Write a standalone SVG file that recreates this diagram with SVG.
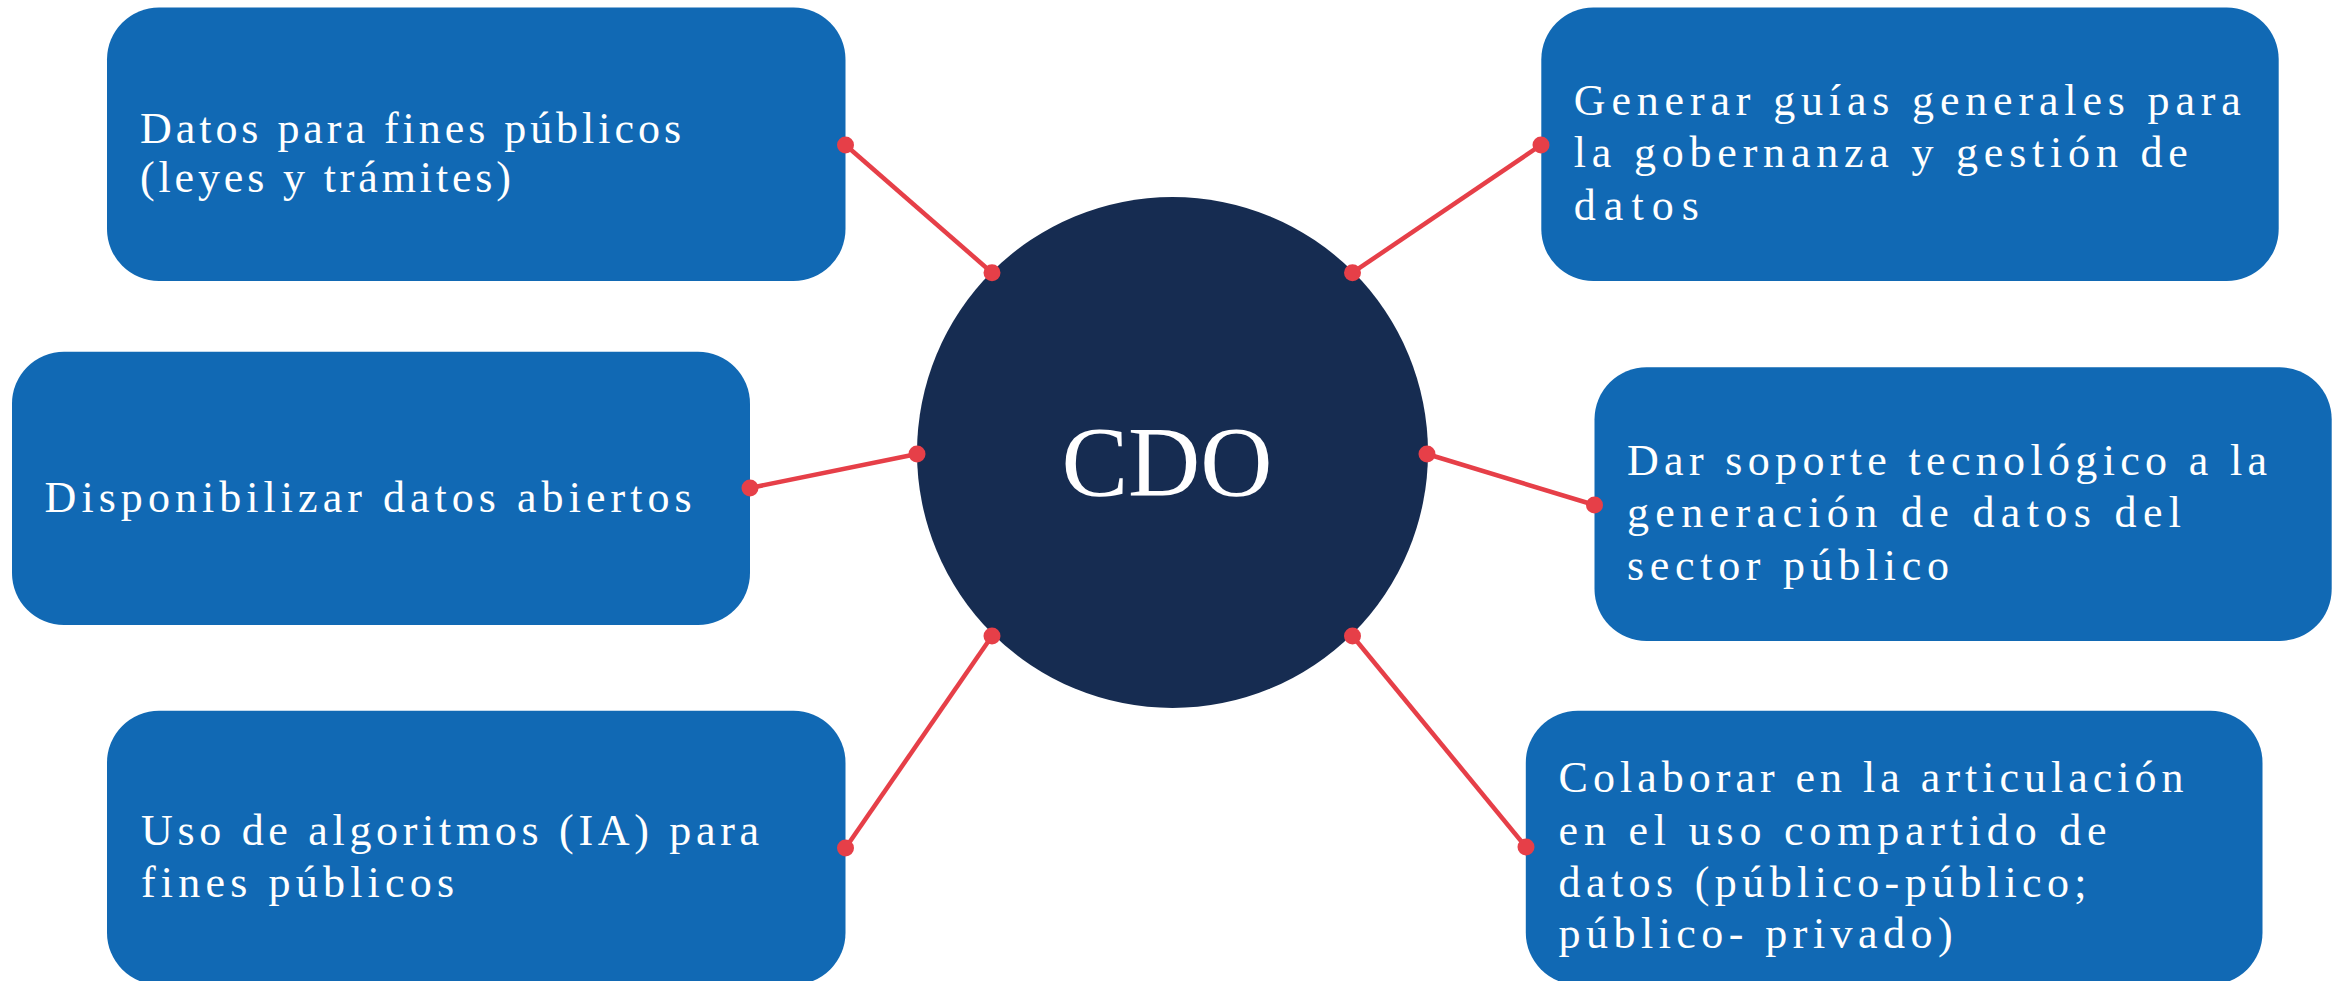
<svg xmlns="http://www.w3.org/2000/svg" width="2338" height="981" viewBox="0 0 2338 981">
<style>
.box{fill:#1169B4;}
.t{font-family:"Liberation Serif","Times New Roman",serif;font-size:44px;fill:#ffffff;}
.hub{fill:#162C51;}
.hubt{font-family:"Liberation Serif","Times New Roman",serif;font-size:100px;fill:#ffffff;text-anchor:middle;}
.ln{stroke:#E63F48;stroke-width:4.5;fill:none;}
.dot{fill:#E63F48;}
</style>
<rect width="2338" height="981" fill="#ffffff"/>
<g id="connectors">
<line class="ln" x1="845.5" y1="145" x2="992" y2="272.7"/>
<line class="ln" x1="1541" y1="145" x2="1352.5" y2="272.7"/>
<line class="ln" x1="750" y1="488" x2="917" y2="454"/>
<line class="ln" x1="1594.5" y1="505" x2="1427" y2="454"/>
<line class="ln" x1="845.5" y1="848" x2="992" y2="636"/>
<line class="ln" x1="1526" y1="847" x2="1352.5" y2="636"/>
</g>
<g id="n1">
<rect class="box" x="107" y="7.5" width="738.5" height="273.5" rx="52" ry="52"/>
<text class="t" x="140" y="143.3" textLength="541" lengthAdjust="spacing">Datos para fines públicos</text>
<text class="t" x="140" y="191.7" textLength="371" lengthAdjust="spacing">(leyes y trámites)</text>
</g>
<g id="n2">
<rect class="box" x="1541.3" y="7.5" width="737.4" height="273.5" rx="52" ry="52"/>
<text class="t" x="1573.8" y="115" textLength="667" lengthAdjust="spacing">Generar guías generales para</text>
<text class="t" x="1573.8" y="166.7" textLength="614" lengthAdjust="spacing">la gobernanza y gestión de</text>
<text class="t" x="1573.8" y="220" textLength="125" lengthAdjust="spacing">datos</text>
</g>
<g id="n3">
<rect class="box" x="12" y="351.7" width="738" height="273.3" rx="52" ry="52"/>
<text class="t" x="44.6" y="511.7" textLength="647" lengthAdjust="spacing">Disponibilizar datos abiertos</text>
</g>
<g id="n4">
<rect class="box" x="1594.5" y="367.3" width="737.2" height="273.7" rx="52" ry="52"/>
<text class="t" x="1627" y="475" textLength="640" lengthAdjust="spacing">Dar soporte tecnológico a la</text>
<text class="t" x="1627" y="526.7" textLength="554" lengthAdjust="spacing">generación de datos del</text>
<text class="t" x="1627" y="580" textLength="322" lengthAdjust="spacing">sector público</text>
</g>
<g id="n5">
<rect class="box" x="107" y="710.7" width="738.5" height="274" rx="52" ry="52"/>
<text class="t" x="141" y="845" textLength="618" lengthAdjust="spacing">Uso de algoritmos (IA) para</text>
<text class="t" x="141" y="896.7" textLength="313" lengthAdjust="spacing">fines públicos</text>
</g>
<g id="n6">
<rect class="box" x="1525.8" y="710.7" width="736.7" height="274" rx="52" ry="52"/>
<text class="t" x="1558.6" y="791.7" textLength="625" lengthAdjust="spacing">Colaborar en la articulación</text>
<text class="t" x="1558.6" y="845" textLength="548" lengthAdjust="spacing">en el uso compartido de</text>
<text class="t" x="1558.6" y="896.7" textLength="528" lengthAdjust="spacing">datos (público-público;</text>
<text class="t" x="1558.6" y="948.3" textLength="394" lengthAdjust="spacing">público- privado)</text>
</g>
<g id="hub">
<circle class="hub" cx="1172.5" cy="452.5" r="255.5"/>
<text class="hubt" x="1167" y="495">CDO</text>
</g>
<g id="dots">
<circle class="dot" cx="845.5" cy="145" r="8.5"/>
<circle class="dot" cx="992" cy="272.7" r="8.5"/>
<circle class="dot" cx="1541" cy="145" r="8.5"/>
<circle class="dot" cx="1352.5" cy="272.7" r="8.5"/>
<circle class="dot" cx="750" cy="488" r="8.5"/>
<circle class="dot" cx="917" cy="454" r="8.5"/>
<circle class="dot" cx="1594.5" cy="505" r="8.5"/>
<circle class="dot" cx="1427" cy="454" r="8.5"/>
<circle class="dot" cx="845.5" cy="848" r="8.5"/>
<circle class="dot" cx="992" cy="636" r="8.5"/>
<circle class="dot" cx="1526" cy="847" r="8.5"/>
<circle class="dot" cx="1352.5" cy="636" r="8.5"/>
</g>
</svg>
